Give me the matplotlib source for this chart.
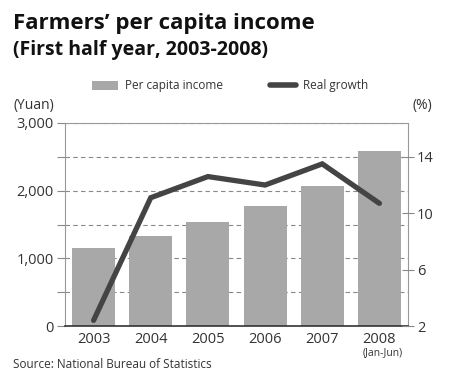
import matplotlib
matplotlib.use('Agg')
import matplotlib.pyplot as plt
from matplotlib.lines import Line2D
from matplotlib.patches import Patch

plt.rcParams['font.family'] = ['Open Sans', 'DejaVu Sans']

# Data
years = ['2003', '2004', '2005', '2006', '2007', '2008']
income = [1148, 1325, 1530, 1770, 2065, 2585]        # Yuan
growth = [2.4, 11.1, 12.6, 12.0, 13.5, 10.7]          # %
left_ticks = [0, 500, 1000, 1500, 2000, 2500, 3000]
right_ticks = [2, 6, 10, 14]

BAR_COLOR = '#a8a8a8'
LINE_COLOR = '#444444'
TEXT_COLOR = '#333333'

fig = plt.figure(figsize=(4.5, 3.73), dpi=100)
ax = fig.add_axes([65 / 450, 47 / 373, 343 / 450, 203 / 373])

x = range(len(years))
ax.bar(x, income, width=0.75, color=BAR_COLOR, zorder=2)
ax.set_xlim(-0.5, len(years) - 0.5)
ax.set_ylim(0, 3000)
ax.set_yticks(left_ticks)
ax.set_yticklabels(['{:,}'.format(v) if v % 1000 == 0 else '' for v in left_ticks])
ax.yaxis.grid(True, linestyle=(0, (4, 3)), color='#888888', linewidth=0.8, zorder=1)
ax.set_axisbelow(True)
ax.tick_params(axis='y', length=6, color='#888888', labelsize=10.5, labelcolor=TEXT_COLOR, pad=2)
ax.set_xticks(list(x))
ax.set_xticklabels(years)
ax.tick_params(axis='x', length=0, labelsize=10.5, labelcolor=TEXT_COLOR, pad=4)

for side in ['left', 'top', 'right']:
    ax.spines[side].set_color('#999999')
ax.spines['bottom'].set_color('#333333')
ax.spines['bottom'].set_linewidth(1.2)

ax2 = ax.twinx()
ax2.plot(x, growth, color=LINE_COLOR, linewidth=3.8, solid_capstyle='round',
         solid_joinstyle='miter', zorder=3)
ax2.set_ylim(2, 2 + 12 * 3000 / 2500)
ax2.set_yticks(right_ticks)
ax2.tick_params(axis='y', direction='inout', length=9, color='#888888',
                labelsize=10.5, labelcolor=TEXT_COLOR, pad=2)
for side in ['left', 'top', 'right', 'bottom']:
    ax2.spines[side].set_visible(False)

# sub-label under the last year
ax.annotate('(Jan-Jun)', xy=(len(years) - 1, 0), xycoords=('data', 'axes fraction'),
            xytext=(2, -19.5), textcoords='offset points', fontsize=7.5,
            color=TEXT_COLOR, ha='center', va='center')

# Titles
fig.text(13 / 450, 1 - 24 / 373, 'Farmers\u2019 per capita income', fontsize=16,
         fontweight='bold', color='#111111', va='center', ha='left')
fig.text(13 / 450, 1 - 50 / 373, '(First half year, 2003-2008)', fontsize=14,
         fontweight='bold', color='#111111', va='center', ha='left')

# Legend
handles = [Patch(facecolor=BAR_COLOR, edgecolor='none'),
           Line2D([0], [0], color=LINE_COLOR, linewidth=4, solid_capstyle='round')]
fig.legend(handles, ['Per capita income', 'Real growth'], loc='center',
           bbox_to_anchor=(230 / 450, 1 - 86 / 373), ncol=2, frameon=False,
           fontsize=8.5, labelcolor=TEXT_COLOR, handlelength=2.2, handleheight=0.9,
           columnspacing=4.0, handletextpad=0.6)

fig.text(13 / 450, 1 - 106 / 373, '(Yuan)', fontsize=10, color=TEXT_COLOR, va='center')
fig.text(432 / 450, 1 - 106 / 373, '(%)', fontsize=10, color=TEXT_COLOR, va='center', ha='right')

fig.text(13 / 450, 1 - 365 / 373, 'Source: National Bureau of Statistics', fontsize=8.5,
         color=TEXT_COLOR, va='center')

fig.savefig('out.png', dpi=100)
